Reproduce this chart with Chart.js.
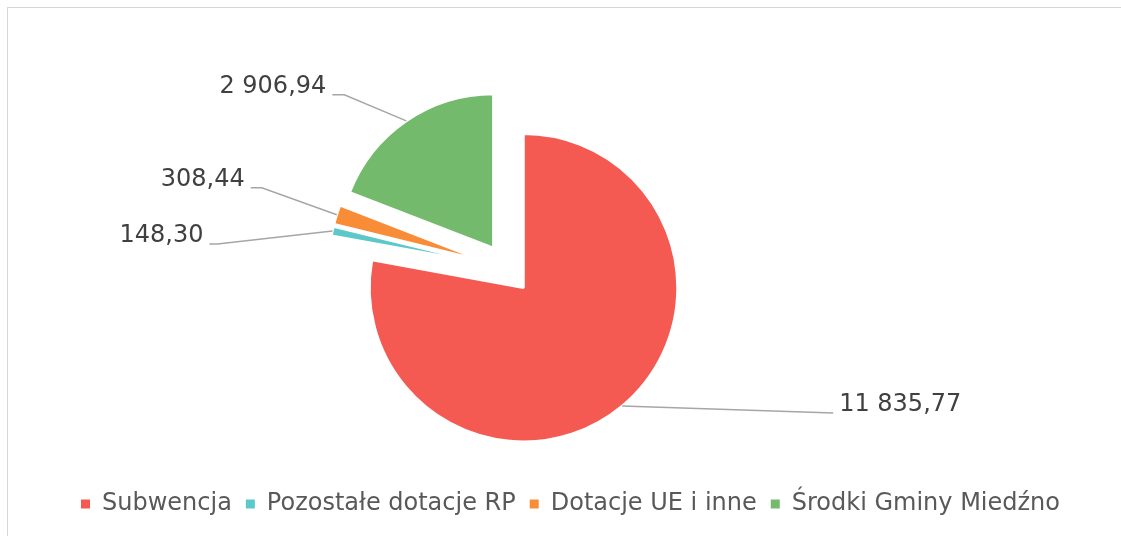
<!DOCTYPE html>
<html>
<head>
<meta charset="utf-8">
<script src="https://cdn.jsdelivr.net/npm/chart.js@4.4.0/dist/chart.umd.min.js"></script>
<style>
  html, body { margin: 0; padding: 0; background: #fff; }
  #wrap { position: relative; width: 1121px; height: 536px; }
  #frame { position: absolute; left: 7px; top: 7px; right: 0; bottom: 0; border-top: 1px solid #d6d6d6; border-left: 1px solid #d6d6d6; }
  canvas { position: absolute; left: 0; top: 0; }
</style>
</head>
<body>
<div id="wrap"><div id="frame"></div><canvas id="chart"></canvas></div>
<script>
const categories = ['Subwencja', 'Pozostałe dotacje RP', 'Dotacje UE i inne', 'Środki Gminy Miedźno'];
const values = [11835.77, 148.30, 308.44, 2906.94];
const colors = ['#f55a52', '#5cc8ca', '#f98c36', '#74ba6d'];

// leader line layout for each data label (offset from the slice edge, hook length)
const labelLayout = [
  { dx: 211, dy: 7, hook: 0 },
  { dx: -115, dy: 13, hook: 8 },
  { dx: -75, dy: -27, hook: 11 },
  { dx: -62, dy: -26, hook: 12 }
];

function formatPL(v) {
  const parts = v.toFixed(2).split('.');
  return parts[0].replace(/\B(?=(\d{3})+(?!\d))/g, ' ') + ',' + parts[1];
}

Chart.defaults.font.family = '"DejaVu Sans", Verdana, sans-serif';

// push every slice out from the centre
const explodePlugin = {
  id: 'explode',
  afterDatasetUpdate(chart, args, opts) {
    args.meta.data.forEach(arc => {
      const mid = (arc.startAngle + arc.endAngle) / 2;
      arc.x += Math.cos(mid) * opts.distance;
      arc.y += Math.sin(mid) * opts.distance;
    });
  }
};

const leaderPlugin = {
  id: 'leaders',
  afterDatasetsDraw(chart) {
    const ctx = chart.ctx;
    const arcs = chart.getDatasetMeta(0).data;
    ctx.save();
    ctx.font = '24px "DejaVu Sans"';
    ctx.textBaseline = 'middle';
    arcs.forEach((arc, i) => {
      const mid = (arc.startAngle + arc.endAngle) / 2;
      const ax = arc.x + Math.cos(mid) * arc.outerRadius;
      const ay = arc.y + Math.sin(mid) * arc.outerRadius;
      const lay = labelLayout[i];
      const side = lay.dx < 0 ? -1 : 1;
      const ex = ax + lay.dx, ey = ay + lay.dy;
      const hx = ex + side * lay.hook;
      ctx.beginPath();
      ctx.moveTo(ax, ay);
      ctx.lineTo(ex, ey);
      ctx.lineTo(hx, ey);
      ctx.strokeStyle = '#a6a6a6';
      ctx.lineWidth = 1.5;
      ctx.stroke();
      ctx.fillStyle = '#404040';
      ctx.textAlign = side < 0 ? 'right' : 'left';
      ctx.fillText(formatPL(values[i]), hx + side * 6, ey - 8);
    });
    ctx.restore();
  }
};

// legend sits centred under the whole frame, not under the pie
const legendShift = {
  id: 'legendShift',
  afterLayout(chart, args, opts) {
    chart.legend.left += opts.dx;
    chart.legend.right += opts.dx;
  }
};

const ctx = document.getElementById('chart').getContext('2d');
window.myChart = new Chart(ctx, {
  type: 'pie',
  data: {
    labels: categories,
    datasets: [{
      data: values,
      backgroundColor: colors,
      borderColor: '#ffffff',
      borderWidth: 2.5,
      hoverOffset: 0
    }]
  },
  options: {
    responsive: true,
    maintainAspectRatio: false,
    animation: false,
    events: [],
    radius: 154,
    layout: { padding: { left: 0, right: 106, top: 59, bottom: 10 } },
    plugins: {
      explode: { distance: 25 },
      legendShift: { dx: 63 },
      tooltip: { enabled: false },
      legend: {
        position: 'bottom',
        labels: {
          boxWidth: 9,
          boxHeight: 9,
          padding: 14,
          color: '#595959',
          font: { size: 24 },
          generateLabels: () => categories.map((c, i) => ({
            text: c,
            fillStyle: colors[i],
            strokeStyle: colors[i],
            lineWidth: 0,
            fontColor: '#595959',
            hidden: false,
            index: i
          }))
        }
      }
    }
  },
  plugins: [explodePlugin, leaderPlugin, legendShift]
});
</script>
</body>
</html>
